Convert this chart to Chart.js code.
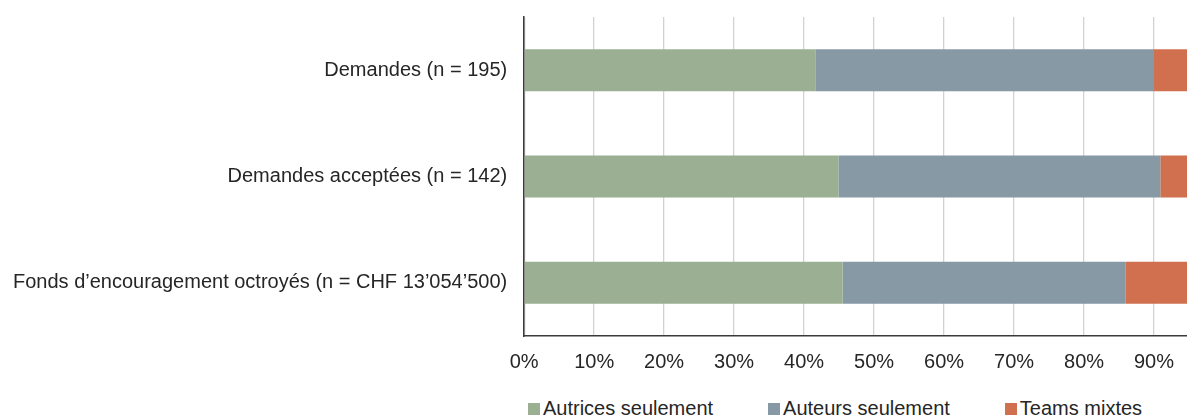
<!DOCTYPE html>
<html lang="fr">
<head>
<meta charset="utf-8">
<title>Demandes et fonds d’encouragement</title>
<script src="https://cdn.jsdelivr.net/npm/chart.js@4.4.1/dist/chart.umd.min.js"></script>
<style>
  html, body { margin: 0; padding: 0; background: #fff; overflow: hidden; }
  body { position: relative; width: 1187px; height: 416px; }
  /* the plot runs past the right edge of the page, the 100% line is cut off */
  #wrap { position: absolute; left: -4px; top: -12px; width: 1278px; height: 400px; }
  #legend {
    position: absolute; left: 528px; top: 398px;
    display: flex; gap: 55px;
    font: 20px "Liberation Sans", Arial, sans-serif; color: #262626; line-height: 20px;
  }
  #legend .item { display: flex; align-items: center; white-space: nowrap; }
  #legend .box { width: 12px; height: 12px; margin-right: 3px; margin-top: 2px; }
</style>
</head>
<body>
<div id="wrap"><canvas id="chart"></canvas></div>
<div id="legend"></div>
<script>
const categories = [
  "Demandes (n = 195)",
  "Demandes acceptées (n = 142)",
  "Fonds d’encouragement octroyés (n = CHF 13’054’500)"
];
const seriesNames = ["Autrices seulement", "Auteurs seulement", "Teams mixtes"];

// parts en %
const autrices = [41.6, 44.9, 45.5];
const auteurs = [48.4, 46.0, 40.4];
const mixtes = [10.0, 9.1, 14.1];

const colors = ["#9BAF92", "#8799A5", "#D0704F"];

Chart.defaults.font.family = '"Liberation Sans", Arial, sans-serif';
Chart.defaults.font.size = 20;
Chart.defaults.color = "#262626";

const makeSet = (label, data, color) => ({
  label,
  data,
  backgroundColor: color,
  borderWidth: 0,
  barPercentage: 0.395,
  categoryPercentage: 1
});

const chart = new Chart(document.getElementById("chart"), {
  type: "bar",
  data: {
    labels: categories,
    datasets: [
      makeSet(seriesNames[0], autrices, colors[0]),
      makeSet(seriesNames[1], auteurs, colors[1]),
      makeSet(seriesNames[2], mixtes, colors[2])
    ]
  },
  options: {
    indexAxis: "y",
    responsive: true,
    maintainAspectRatio: false,
    animation: false,
    layout: { padding: { left: 0, top: 0, right: 50, bottom: 0 } },
    scales: {
      x: {
        stacked: true,
        min: 0,
        max: 100,
        ticks: { stepSize: 10, padding: 14, callback: (v) => v + "%" },
        grid: { color: "#d2d2d2", lineWidth: 1.3, drawTicks: false },
        border: { color: "#3a3a3a", width: 1.5 }
      },
      y: {
        stacked: true,
        ticks: { padding: 17 },
        grid: { display: false, drawTicks: false },
        border: { color: "#3a3a3a", width: 1.5 }
      }
    },
    plugins: {
      legend: { display: false },
      tooltip: { enabled: false }
    }
  }
});

// legend under the axis, built from the datasets
const legend = document.getElementById("legend");
chart.data.datasets.forEach((ds) => {
  const item = document.createElement("div");
  item.className = "item";
  const box = document.createElement("span");
  box.className = "box";
  box.style.background = ds.backgroundColor;
  const txt = document.createElement("span");
  txt.textContent = ds.label;
  item.append(box, txt);
  legend.append(item);
});
</script>
</body>
</html>
